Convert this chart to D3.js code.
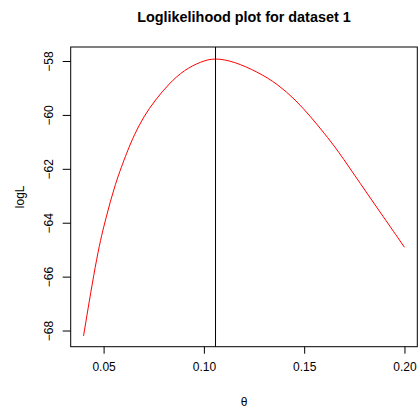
<!DOCTYPE html>
<html>
<head>
<meta charset="utf-8">
<script src="https://cdn.jsdelivr.net/npm/d3@7"></script>
<style>
  html, body { margin: 0; padding: 0; background: #fff; }
  svg { display: block; }
  text { font-family: "Liberation Sans", Arial, Helvetica, sans-serif; fill: #000; }
</style>
</head>
<body>
<svg id="chart" width="418" height="414"></svg>
<script>
// Data
const theta = [0.0400, 0.0470, 0.0512, 0.0556, 0.0620, 0.0653, 0.0699, 0.0757, 0.0827, 0.0902,
               0.0985, 0.1055, 0.1151, 0.1267, 0.1367, 0.1458, 0.1533, 0.1600, 0.1666, 0.1779,
               0.1895, 0.2000];
const logL  = [-68.20, -65.05, -63.82, -62.58, -61.31, -60.74, -60.07, -59.45, -58.83, -58.33,
               -58.02, -57.88, -58.02, -58.40, -58.85, -59.45, -60.07, -60.68, -61.30, -62.54,
               -63.78, -64.91];
const thetaHat = 0.1058;
const xTicks = [0.05, 0.10, 0.15, 0.20];
const xTickLabels = ["0.05", "0.10", "0.15", "0.20"];
const yTicks = [-58, -60, -62, -64, -66, -68];
const yTickLabels = ["\u221258", "\u221260", "\u221262", "\u221264", "\u221266", "\u221268"];
const title = "Loglikelihood plot for dataset 1";
const xLabel = "\u03B8";
const yLabel = "logL";

const svg = d3.select("#chart");
const L = 70.7, R = 417.3, T = 47, B = 346.7;

const x = d3.scaleLinear().domain([0.0336, 0.2064]).range([L, R]);
const y = d3.scaleLinear().domain([-68.60, -57.48]).range([B, T]);

// curve
const pts = theta.map((t, i) => [t, logL[i]]);
svg.append("path")
  .datum(pts)
  .attr("fill", "none")
  .attr("stroke", "#ff0000")
  .attr("stroke-width", 1)
  .attr("d", d3.line().x(d => x(d[0])).y(d => y(d[1])).curve(d3.curveBasis));

// vertical line at MLE
svg.append("line")
  .attr("x1", x(thetaHat)).attr("x2", x(thetaHat))
  .attr("y1", T).attr("y2", B)
  .attr("stroke", "#000").attr("stroke-width", 1);

// box
svg.append("rect")
  .attr("x", L).attr("y", T).attr("width", R - L).attr("height", B - T)
  .attr("fill", "none").attr("stroke", "#000").attr("stroke-width", 1);

// x axis
const xAxis = d3.axisBottom(x).tickValues(xTicks).tickSize(7).tickPadding(9)
  .tickFormat((d, i) => xTickLabels[i]);
const gx = svg.append("g").attr("transform", `translate(0,${B})`).call(xAxis);
gx.select(".domain").remove();
gx.selectAll("text").attr("font-size", 12).style("font-family", "Liberation Sans, Arial, sans-serif");

// y axis
const yAxis = d3.axisLeft(y).tickValues(yTicks).tickSize(8).tickPadding(0)
  .tickFormat((d, i) => yTickLabels[i]);
const gy = svg.append("g").attr("transform", `translate(${L},0)`).call(yAxis);
gy.select(".domain").remove();
gy.selectAll("text")
  .attr("font-size", 12)
  .attr("x", null).attr("dy", null)
  .attr("text-anchor", "middle")
  .attr("transform", "translate(-17.4,0) rotate(-90)");

// title
svg.append("text")
  .attr("x", (L + R) / 2).attr("y", 22)
  .attr("text-anchor", "middle")
  .attr("font-size", 14.4).attr("font-weight", "bold")
  .text(title);

// axis labels
svg.append("text")
  .attr("x", (L + R) / 2).attr("y", 406)
  .attr("text-anchor", "middle").attr("font-size", 12)
  .text(xLabel);
svg.append("text")
  .attr("transform", `translate(24,${(T + B) / 2}) rotate(-90)`)
  .attr("text-anchor", "middle").attr("font-size", 12)
  .text(yLabel);
</script>
</body>
</html>
